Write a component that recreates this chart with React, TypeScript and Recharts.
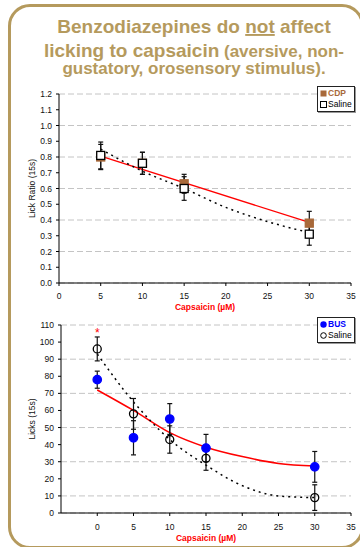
import React from 'react';
import { ComposedChart, Line, XAxis, YAxis, CartesianGrid, ErrorBar, Legend, Label } from 'recharts';

const GOLD = '#b59a5d';
const FONT = '"Liberation Sans", Arial, sans-serif';
const BROWN = '#a8693a';

// top panel: lick ratio, CDP vs saline
const ratioDoses = [5, 10, 15, 30];
const cdpRatio = [0.8, 0.76, 0.63, 0.38];
const cdpRatioSem = [0.08, 0.07, 0.06, 0.075];
const salRatio = [0.81, 0.76, 0.6, 0.31];
const salRatioSem = [0.085, 0.07, 0.075, 0.07];
const cdpFitDoses = [5, 30];
const cdpFitRatio = [0.805, 0.385];
const salFitDoses = [5, 10, 15, 20, 25, 30];
const salFitRatio = [0.85, 0.71, 0.6, 0.48, 0.39, 0.32];
const ratioTicks = [0, 0.1, 0.2, 0.3, 0.4, 0.5, 0.6, 0.7, 0.8, 0.9, 1.0, 1.1, 1.2];
const doseTicks = [0, 5, 10, 15, 20, 25, 30, 35];

// bottom panel: licks, BUS vs saline
const lickDoses = [0, 5, 10, 15, 30];
const busLicks = [78, 44, 55, 38, 27];
const busSem = [5, 10, 9, 8, 9];
const salLicks = [96, 58, 43, 32, 9];
const salSem = [7, 9, 8, 7, 7.5];
const fitDoses = [0, 5, 10, 15, 20, 25, 30];
const busFitLicks = [72, 60, 47, 38.5, 33, 29, 27.5];
const salFitLicks = [93, 65, 43, 28, 16, 10, 9];
const lickTicks = [0, 10, 20, 30, 40, 50, 60, 70, 80, 90, 100, 110];
const starDose = [0];
const starLevel = [107];

const pts = (xs: number[], ys: number[], es?: number[]) =>
  xs.map((x, i) => ({ x, y: ys[i], e: es ? es[i] : 0 }));

const tickStyle = { fontSize: 8.5, fill: '#111', fontFamily: FONT };

const square = (fill: string, stroke: string) => (p: any) => (
  <rect key={`sq${p.index}`} x={p.cx - 4} y={p.cy - 4} width={8} height={8} fill={fill} stroke={stroke} strokeWidth={1.3} />
);
const circle = (fill: string, stroke: string, r: number) => (p: any) => (
  <circle key={`c${p.index}`} cx={p.cx} cy={p.cy} r={r} fill={fill} stroke={stroke} strokeWidth={1.3} />
);
const star = (p: any) => (
  <text key={`st${p.index}`} x={p.cx} y={p.cy + 7} textAnchor="middle" fontSize={12} fill="#ff0000" fontFamily={FONT}>*</text>
);

const yLabel = (text: string) => (p: any) => {
  const vb = p.viewBox;
  const cy = vb.y + vb.height / 2;
  return (
    <text x={32} y={cy} transform={`rotate(-90 32 ${cy})`} textAnchor="middle" dominantBaseline="central" fontSize={8.5} fill="#111" fontFamily={FONT}>
      {text}
    </text>
  );
};

const LegendBox = ({ rows }: { rows: { label: string; color: string; bold: boolean; mark: React.ReactNode }[] }) => (
  <div style={{ border: '1px solid #222', boxShadow: '1px 1px 0 #999', background: '#fff', padding: '1px 2px', width: 32, fontFamily: FONT, fontSize: 8.5, lineHeight: '11px' }}>
    {rows.map((r) => (
      <div key={r.label} style={{ display: 'flex', alignItems: 'center', color: r.color, fontWeight: r.bold ? 'bold' : 'normal' }}>
        <svg width={7} height={7} style={{ marginRight: 1 }}>{r.mark}</svg>
        {r.label}
      </div>
    ))}
  </div>
);

export default function App() {
  return (
    <div style={{ position: 'absolute', left: 0, top: 0, width: 360, height: 547, overflow: 'hidden', background: '#fff' }}>
      <div style={{ position: 'absolute', left: 8, top: 4, width: 356, height: 545, boxSizing: 'border-box', border: `3px solid ${GOLD}`, borderRadius: 22 }} />
      <svg style={{ position: 'absolute', left: 0, top: 0 }} width={360} height={85}>
        <g fill={GOLD} fontFamily={FONT} fontWeight="bold" textAnchor="middle">
          <text x={194} y={33} fontSize={19}>
            Benzodiazepines do <tspan textDecoration="underline">not</tspan> affect
          </text>
          <text x={194} y={57}>
            <tspan fontSize={19}>licking to capsaicin</tspan>
            <tspan fontSize={17}> (aversive, non-</tspan>
          </text>
          <text x={194} y={74} fontSize={17}>gustatory, orosensory stimulus).</text>
        </g>
      </svg>

      <div style={{ position: 'absolute', left: 0, top: 80 }}>
        <ComposedChart width={360} height={240} margin={{ top: 14, right: 9, bottom: 7, left: 0 }}>
          <CartesianGrid vertical={false} stroke="#c4c4c4" strokeDasharray="6 3" />
          <XAxis dataKey="x" type="number" domain={[0, 35]} ticks={doseTicks} height={30} tickSize={3} tickMargin={7}
            tick={tickStyle} stroke="#000" allowDataOverflow>
            <Label value="Capsaicin (µM)" position="insideBottom" offset={3} fill="#ff0000" fontSize={8.5} fontWeight="bold" fontFamily={FONT} />
          </XAxis>
          <YAxis type="number" domain={[0, 1.2]} ticks={ratioTicks} width={59} tickSize={3} tickMargin={4}
            tick={tickStyle} stroke="#000" tickFormatter={(v: number) => v.toFixed(1)}>
            <Label content={yLabel('Lick Ratio (15s)')} />
          </YAxis>
          <Line data={pts(cdpFitDoses, cdpFitRatio)} dataKey="y" type="linear" stroke="#ff0000" strokeWidth={1.3} dot={false} activeDot={false} isAnimationActive={false} legendType="none" />
          <Line data={pts(salFitDoses, salFitRatio)} dataKey="y" type="monotone" stroke="#000" strokeWidth={1.5} strokeDasharray="2 4" dot={false} activeDot={false} isAnimationActive={false} legendType="none" />
          <Line data={pts(ratioDoses, cdpRatio, cdpRatioSem)} dataKey="y" stroke="none" dot={square(BROWN, BROWN)} activeDot={false} isAnimationActive={false}>
            <ErrorBar dataKey="e" direction="y" width={2.5} stroke="#111" strokeWidth={1.2} />
          </Line>
          <Line data={pts(ratioDoses, salRatio, salRatioSem)} dataKey="y" stroke="none" dot={square('#fff', '#000')} activeDot={false} isAnimationActive={false}>
            <ErrorBar dataKey="e" direction="y" width={2.5} stroke="#111" strokeWidth={1.2} />
          </Line>
          <Legend layout="vertical" align="center" verticalAlign="middle" wrapperStyle={{ left: 317, top: 6, width: 'auto', height: 'auto' }}
            content={() => (
              <LegendBox rows={[
                { label: 'CDP', color: BROWN, bold: true, mark: <rect x={0.5} y={0.5} width={6} height={6} fill={BROWN} /> },
                { label: 'Saline', color: '#000', bold: false, mark: <rect x={0.5} y={0.5} width={6} height={6} fill="#fff" stroke="#000" /> },
              ]} />
            )} />
        </ComposedChart>
      </div>

      <div style={{ position: 'absolute', left: 0, top: 312 }}>
        <ComposedChart width={360} height={235} margin={{ top: 13, right: 9, bottom: 4, left: 0 }}>
          <CartesianGrid vertical={false} stroke="#c4c4c4" strokeDasharray="6 3" />
          <XAxis dataKey="x" type="number" domain={[-5, 35]} ticks={doseTicks} height={30} tickSize={3} tickMargin={8}
            tick={tickStyle} stroke="#000" allowDataOverflow>
            <Label value="Capsaicin (µM)" position="insideBottom" offset={2} fill="#ff0000" fontSize={8.5} fontWeight="bold" fontFamily={FONT} />
          </XAxis>
          <YAxis type="number" domain={[0, 110]} ticks={lickTicks} width={61} tickSize={3} tickMargin={4}
            tick={tickStyle} stroke="#000">
            <Label content={yLabel('Licks (15s)')} />
          </YAxis>
          <Line data={pts(fitDoses, busFitLicks)} dataKey="y" type="monotone" stroke="#ff0000" strokeWidth={1.5} dot={false} activeDot={false} isAnimationActive={false} legendType="none" />
          <Line data={pts(fitDoses, salFitLicks)} dataKey="y" type="monotone" stroke="#000" strokeWidth={1.5} strokeDasharray="2 4" dot={false} activeDot={false} isAnimationActive={false} legendType="none" />
          <Line data={pts(lickDoses, busLicks, busSem)} dataKey="y" stroke="none" dot={circle('#0000ff', '#0000ff', 4.2)} activeDot={false} isAnimationActive={false}>
            <ErrorBar dataKey="e" direction="y" width={2.5} stroke="#111" strokeWidth={1.2} />
          </Line>
          <Line data={pts(lickDoses, salLicks, salSem)} dataKey="y" stroke="none" dot={circle('none', '#000', 4)} activeDot={false} isAnimationActive={false}>
            <ErrorBar dataKey="e" direction="y" width={2.5} stroke="#111" strokeWidth={1.2} />
          </Line>
          <Line data={pts(starDose, starLevel)} dataKey="y" stroke="none" dot={star} activeDot={false} isAnimationActive={false} legendType="none" />
          <Legend layout="vertical" align="center" verticalAlign="middle" wrapperStyle={{ left: 317, top: 5, width: 'auto', height: 'auto' }}
            content={() => (
              <LegendBox rows={[
                { label: 'BUS', color: '#0000ff', bold: true, mark: <circle cx={3.5} cy={3.5} r={3.2} fill="#0000ff" /> },
                { label: 'Saline', color: '#000', bold: false, mark: <circle cx={3.5} cy={3.5} r={2.8} fill="none" stroke="#000" /> },
              ]} />
            )} />
        </ComposedChart>
      </div>
    </div>
  );
}
